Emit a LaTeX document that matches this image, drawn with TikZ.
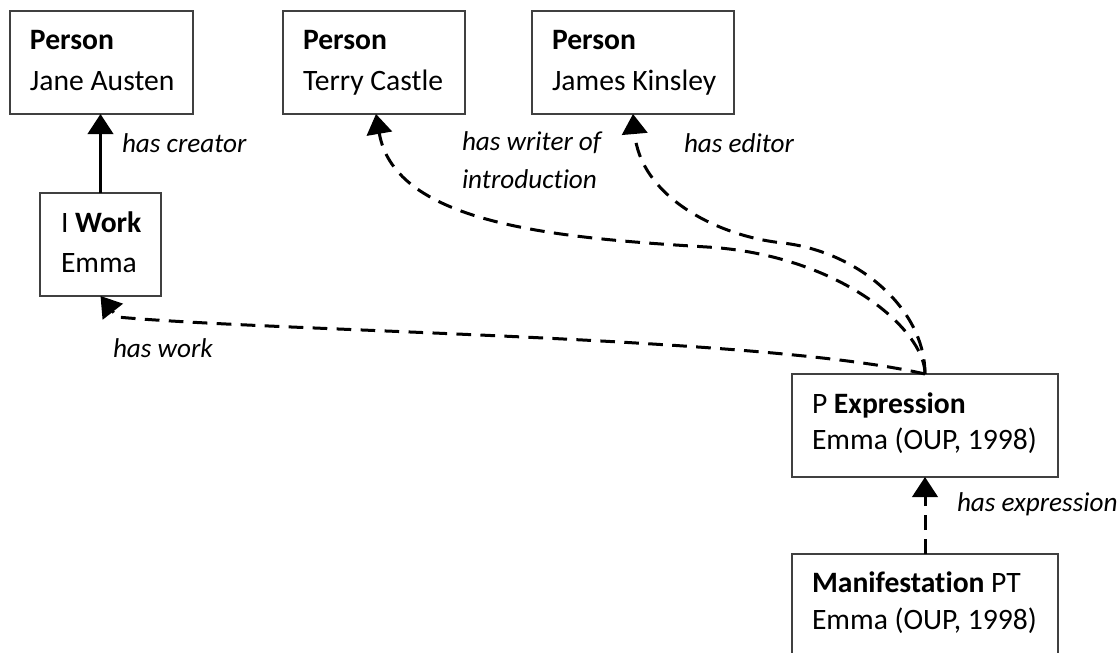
\documentclass[tikz,border=0pt]{standalone}
\usepackage{fontspec}
\setmainfont{Carlito}[Ligatures=NoCommon]
\usetikzlibrary{arrows.meta,calc}

\tikzset{
  box/.style={draw=black!75, line width=1pt, rectangle, anchor=north west,
              inner sep=0pt, outer sep=0pt, minimum height=77.25pt},
  txt/.style={anchor=base west, inner sep=0pt, outer sep=0pt,
              font=\fontsize{22.2}{26}\selectfont},
  rel/.style={txt, font=\fontsize{20.4}{26}\selectfont\itshape},
  link/.style={line width=2.25pt, -{Triangle[length=15pt,width=19pt]}},
  dlink/.style={link, dash pattern=on 11pt off 7pt},
}

\begin{document}
\begin{tikzpicture}[x=0.75pt, y=-0.75pt]
\path[use as bounding box] (0,0) rectangle (1118,653);

% entity boxes
\node[box, minimum width=137.25pt] (jane)  at (10,11)  {};
\node[box, minimum width=136.5pt]  (terry) at (283,11) {};
\node[box, minimum width=151.5pt]  (james) at (532,11) {};
\node[box, minimum width=90.75pt]  (work)  at (40,193) {};
\node[box, minimum width=199.5pt]  (expr)  at (792,374) {};
\node[box, minimum width=199.5pt]  (manif) at (792,554) {};

% box contents
\node[txt] (janeA)  at (30,50)  {\textbf{Person}};
\node[txt] (janeB)  at (30,90)  {Jane Austen};
\node[txt] (terryA) at (303,50) {\textbf{Person}};
\node[txt] (terryB) at (303,90) {Terry Castle};
\node[txt] (jamesA) at (552,50) {\textbf{Person}};
\node[txt] (jamesB) at (552,90) {James Kinsley};
\node[txt] (workA)  at (61,232) {I \textbf{Work}};
\node[txt] (workB)  at (61,272) {Emma};
\node[txt] (exprA)  at (812,413) {P \textbf{Expression}};
\node[txt] (exprB)  at (812,449) {Emma (OUP, 1998)};
\node[txt] (manifA) at (812,592) {\textbf{Manifestation} PT};
\node[txt] (manifB) at (812,629) {Emma (OUP, 1998)};

% relationship labels
\node[rel] (lcreator) at (122,152) {has creator};
\node[rel] (lwriterA) at (462,150) {has writer of};
\node[rel] (lwriterB) at (462,188) {introduction};
\node[rel] (leditor)  at (684,152) {has editor};
\node[rel] (lwork)    at (113,357) {has work};
\node[rel] (lexpr)    at (957,511) {has expression};

% connectors
\draw[link] (work.north) -- (work.north |- jane.south);
\draw[dlink] (manif.north) -- (expr.south);
\draw[dlink] (expr.north) .. controls (925,330) and (840,255) .. (707,247)
             .. controls (560,238) and (395,225) .. (terry.south -| 376,0);
\draw[dlink] (expr.north) .. controls (925,310) and (860,252) .. (783,243)
             .. controls (715,236) and (640,195) .. (james.south -| 633,0);
\coordinate (wbend) at (117,317);
\draw[dlink] (expr.north) .. controls (760,336) and (280,332) .. (wbend)
             -- (work.south);
\end{tikzpicture}
\end{document}
